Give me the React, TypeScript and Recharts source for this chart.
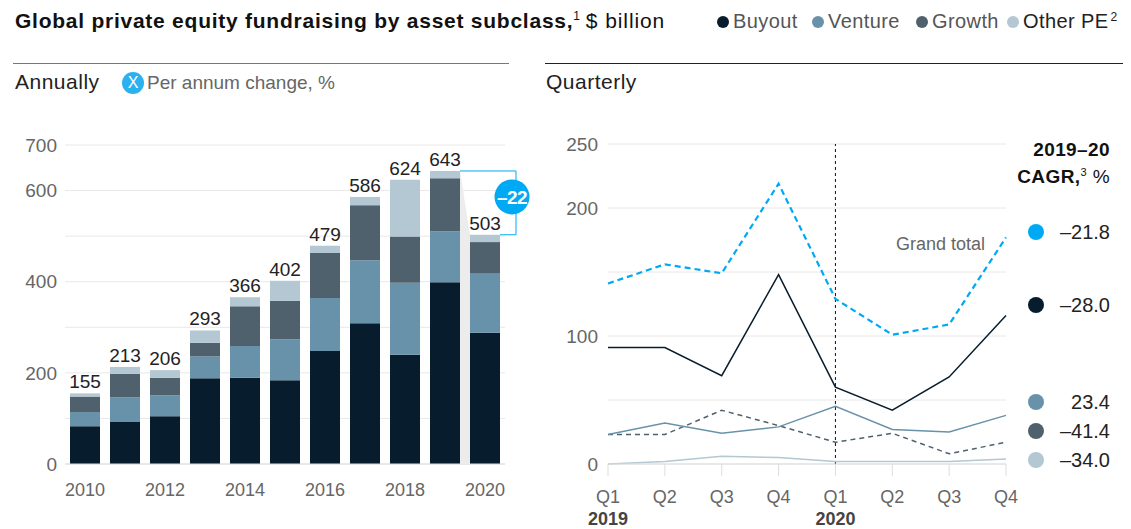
import React from 'react';
import { BarChart, Bar, LineChart, Line, XAxis, YAxis, CartesianGrid, LabelList, ReferenceLine } from 'recharts';

// Annual fundraising, $ billion
const years = ['2010', '2011', '2012', '2013', '2014', '2015', '2016', '2017', '2018', '2019', '2020'];
const buyout = [83, 93, 105, 188, 189, 184, 248, 309, 240, 399, 288];
const venture = [31, 53, 46, 48, 70, 90, 116, 138, 158, 112, 131];
const growth = [34, 52, 38, 30, 87, 84, 99, 121, 101, 116, 68];
const otherPe = [7, 15, 17, 27, 20, 44, 16, 18, 125, 16, 16];
const totals = [155, 213, 206, 293, 366, 402, 479, 586, 624, 643, 503];
const annualChange = '–22';

// Quarterly fundraising, $ billion
const quarters = ['Q1', 'Q2', 'Q3', 'Q4', 'Q1', 'Q2', 'Q3', 'Q4'];
const quarterYears = ['2019', '', '', '', '2020', '', '', ''];
const qTotal = [141, 156, 149, 219, 129, 101, 109, 177];
const qBuyout = [91, 91, 69, 148, 60, 42, 68, 116];
const qVenture = [23, 32, 24, 29, 45, 27, 25, 38];
const qGrowth = [23, 23, 42, 30, 17, 24, 8, 17];
const qOther = [0, 2, 6, 5, 2, 2, 2, 4];

const cagrLabels = ['–21.8', '–28.0', '23.4', '–41.4', '–34.0'];

const C = {
  buyout: '#071d2d',
  venture: '#6892a9',
  growth: '#4f616c',
  other: '#b3c8d3',
  total: '#00a9f4',
};

const annualRows = years.map((y, i) => ({
  year: y,
  buyout: buyout[i],
  venture: venture[i],
  growth: growth[i],
  other: otherPe[i],
  total: totals[i],
}));

const quarterRows = quarters.map((q, i) => ({
  key: `${q}-${i}`,
  q,
  yr: quarterYears[i],
  total: qTotal[i],
  buyout: qBuyout[i],
  venture: qVenture[i],
  growth: qGrowth[i],
  other: qOther[i],
}));

const FONT = '"Liberation Sans", Arial, sans-serif';

const BAR_W = 545;
const BAR_M = { top: 145, right: 40, bottom: 0, left: 0 };
const BAR_YAXIS = 65;
const STEP = (BAR_W - BAR_M.left - BAR_M.right - BAR_YAXIS) / years.length;

// draws the 2019 -> 2020 change bracket, using the buyout segment to get the scale
const ChangeAnnotation = (props: any) => {
  const { x, y, width, height, value, index } = props;
  if (index !== years.length - 1) return null;
  const base = y + height;
  const ppu = height / value;
  const yPrev = base - totals[index - 1] * ppu;
  const yCur = base - totals[index] * ppu;
  const prevRight = x - (STEP - width);
  const right = x + width + 16;
  const cy = (yPrev + yCur) / 2 - 6;
  return (
    <g>
      <polygon points={`${prevRight},${yPrev} ${x},${yCur} ${x},${base} ${prevRight},${base}`} fill="#ececec" />
      <polyline points={`${prevRight},${yPrev} ${right},${yPrev} ${right},${yCur} ${x + width},${yCur}`} fill="none" stroke={C.total} strokeWidth={1} />
      <circle cx={right - 4} cy={cy} r={17.5} fill={C.total} />
      <text x={right - 4} y={cy + 7} textAnchor="middle" fill="#fff" fontSize={19} letterSpacing={-0.6} fontWeight="bold" fontFamily={FONT}>{annualChange}</text>
    </g>
  );
};

const GrandTotalLabel = (props: any) => {
  const { x, y, index } = props;
  if (index !== quarters.length - 1) return null;
  return (
    <text x={x - 21} y={y + 13} textAnchor="end" fill="#666" fontSize={18} fontFamily={FONT}>Grand total</text>
  );
};

const QuarterTick = (props: any) => {
  const { x, y, payload } = props;
  const row = quarterRows.find((r) => r.key === payload.value);
  return (
    <g>
      <text x={x} y={y + 13} textAnchor="middle" fill="#666" fontSize={18} fontFamily={FONT}>{row?.q}</text>
      {row?.yr ? (
        <text x={x} y={y + 35} textAnchor="middle" fill="#444" fontSize={18} fontWeight="bold" fontFamily={FONT}>{row.yr}</text>
      ) : null}
    </g>
  );
};

const Dot = ({ color, size }: { color: string; size: number }) => (
  <span style={{ display: 'inline-block', flex: 'none', width: size, height: size, borderRadius: '50%', background: color }} />
);

const legendItems = [
  { name: 'Buyout', color: C.buyout, text: '#555', left: 717 },
  { name: 'Venture', color: C.venture, text: '#555', left: 812 },
  { name: 'Growth', color: C.growth, text: '#555', left: 916 },
  { name: 'Other PE', color: C.other, text: '#222', left: 1007, sup: '2' },
];

const cagrRows = [
  { color: C.total, top: 232 },
  { color: C.buyout, top: 305 },
  { color: C.venture, top: 402 },
  { color: C.growth, top: 431 },
  { color: C.other, top: 460 },
];

export default function App() {
  return (
    <div style={{ position: 'relative', width: 1131, height: 529, fontFamily: FONT, background: '#fff', overflow: 'hidden' }}>
      <style>{'body{margin:0}'}</style>

      {/* header */}
      <div style={{ position: 'absolute', left: 15, top: 9, fontSize: 21, color: '#111', whiteSpace: 'nowrap' }}>
        <b style={{ letterSpacing: 0.75 }}>Global private equity fundraising by asset subclass,</b>
        <sup style={{ fontSize: 12 }}>1</sup> <span style={{ letterSpacing: 0.9 }}>$ billion</span>
      </div>
      {legendItems.map((it) => (
        <div key={it.name} style={{ position: 'absolute', left: it.left, top: 10, fontSize: 20, letterSpacing: 0.4, display: 'flex', alignItems: 'center', gap: 4, color: it.text, whiteSpace: 'nowrap' }}>
          <Dot color={it.color} size={12} />
          {it.name}
          {it.sup ? <sup style={{ fontSize: 12, alignSelf: 'flex-start', marginTop: 0, marginLeft: -2 }}>{it.sup}</sup> : null}
        </div>
      ))}

      <div style={{ position: 'absolute', left: 13, top: 63, width: 496, height: 0, borderTop: '1.5px solid #777' }} />
      <div style={{ position: 'absolute', left: 545, top: 63, width: 578, height: 0, borderTop: '1.5px solid #222' }} />

      <div style={{ position: 'absolute', left: 15, top: 70, fontSize: 21, letterSpacing: 0.5, color: '#222' }}>Annually</div>
      <div style={{ position: 'absolute', left: 122, top: 72, display: 'flex', alignItems: 'center', gap: 3, fontSize: 19, color: '#666' }}>
        <span style={{ width: 22, height: 22, borderRadius: '50%', background: '#2cb1f0', color: '#fff', fontSize: 16, display: 'flex', alignItems: 'center', justifyContent: 'center' }}>X</span>
        Per annum change, %
      </div>
      <div style={{ position: 'absolute', left: 546, top: 70, fontSize: 21, letterSpacing: 0.5, color: '#222' }}>Quarterly</div>

      {/* annual stacked bars */}
      <div style={{ position: 'absolute', left: 0, top: 0 }}>
        <BarChart width={BAR_W} height={500} data={annualRows} margin={BAR_M} barSize={30}>
          <CartesianGrid vertical={false} stroke="#e8e8e8" />
          <XAxis dataKey="year" interval={1} height={36} tickLine={false} axisLine={{ stroke: '#ddd' }} tickSize={0} tickMargin={19} tick={{ fill: '#666', fontSize: 18, fontFamily: FONT }} />
          <YAxis width={BAR_YAXIS} domain={[0, 700]} ticks={[0, 100, 200, 300, 400, 500, 600, 700]} tickFormatter={(v: number) => ([100, 300, 500].includes(v) ? '' : String(v))} axisLine={false} tickLine={false} tickSize={0} tickMargin={8} tick={{ fill: '#666', fontSize: 19, fontFamily: FONT }} />
          <Bar dataKey="buyout" stackId="a" fill={C.buyout} isAnimationActive={false}>
            <LabelList dataKey="buyout" content={ChangeAnnotation} />
          </Bar>
          <Bar dataKey="venture" stackId="a" fill={C.venture} isAnimationActive={false} />
          <Bar dataKey="growth" stackId="a" fill={C.growth} isAnimationActive={false} />
          <Bar dataKey="other" stackId="a" fill={C.other} isAnimationActive={false}>
            <LabelList dataKey="total" position="top" offset={5} fill="#222" fontSize={19} fontFamily={FONT} />
          </Bar>
        </BarChart>
      </div>

      {/* quarterly lines */}
      <div style={{ position: 'absolute', left: 540, top: 0 }}>
        <LineChart width={500} height={529} data={quarterRows} margin={{ top: 144, right: 34, bottom: 0, left: 0 }}>
          <CartesianGrid vertical={false} stroke="#e8e8e8" />
          <XAxis dataKey="key" height={65} interval={0} axisLine={{ stroke: '#ddd' }} tickLine={{ stroke: '#ddd' }} tickSize={12} tickMargin={14} tick={QuarterTick} />
          <YAxis width={68} domain={[0, 250]} ticks={[0, 50, 100, 150, 200, 250]} tickFormatter={(v: number) => (v === 50 || v === 150 ? '' : String(v))} axisLine={false} tickLine={false} tickSize={0} tickMargin={10} tick={{ fill: '#666', fontSize: 19, fontFamily: FONT }} />
          <ReferenceLine x={quarterRows[4].key} stroke="#111" strokeDasharray="3 3" strokeWidth={1} />
          <Line dataKey="other" stroke={C.other} strokeWidth={1.5} dot={false} isAnimationActive={false} />
          <Line dataKey="growth" stroke={C.growth} strokeWidth={1.5} strokeDasharray="5 4" dot={false} isAnimationActive={false} />
          <Line dataKey="venture" stroke={C.venture} strokeWidth={1.5} dot={false} isAnimationActive={false} />
          <Line dataKey="buyout" stroke={C.buyout} strokeWidth={1.5} dot={false} isAnimationActive={false} />
          <Line dataKey="total" stroke={C.total} strokeWidth={2.2} strokeDasharray="6 4" dot={false} isAnimationActive={false}>
            <LabelList dataKey="total" content={GrandTotalLabel} />
          </Line>
        </LineChart>
      </div>

      {/* CAGR legend */}
      <div style={{ position: 'absolute', right: 21, top: 138, textAlign: 'right', fontSize: 19, lineHeight: '23px', color: '#111', letterSpacing: 0.4 }}>
        <b>2019–20</b>
        <br />
        <b>CAGR,</b>
        <sup style={{ fontSize: 11 }}>3</sup> %
      </div>
      {cagrRows.map((r, i) => (
        <div key={i} style={{ position: 'absolute', left: 1028, width: 82, top: r.top - 12, height: 24, display: 'flex', alignItems: 'center', justifyContent: 'space-between', fontSize: 20, color: '#222' }}>
          <Dot color={r.color} size={16} />
          <span>{cagrLabels[i]}</span>
        </div>
      ))}
    </div>
  );
}
